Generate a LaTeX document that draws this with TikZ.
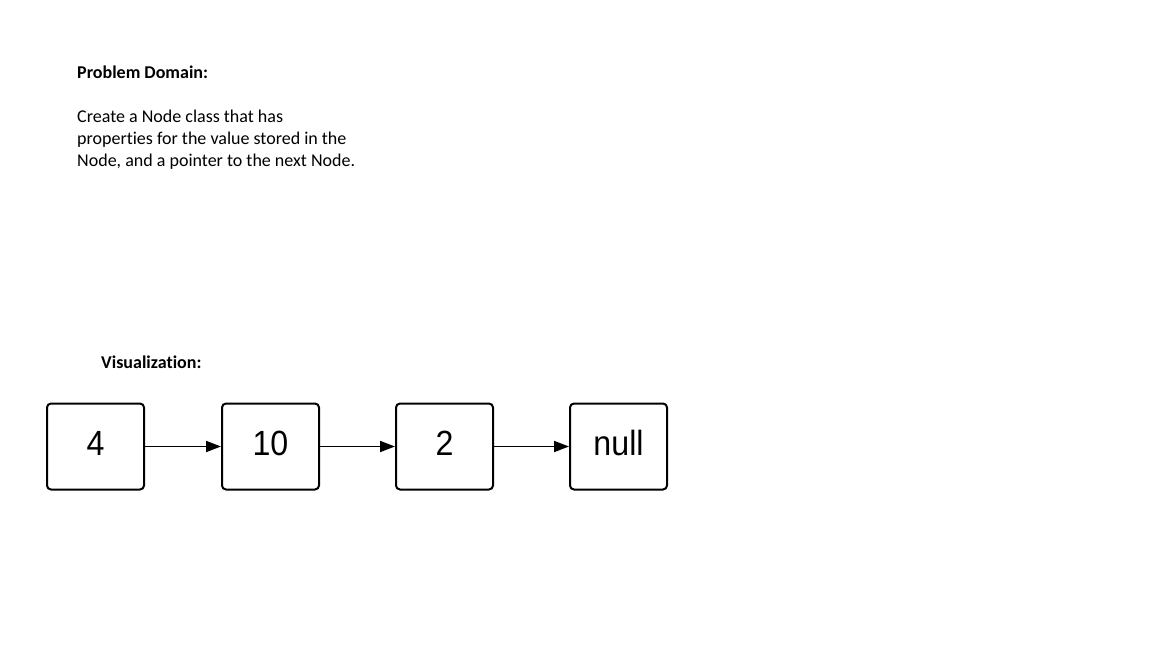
\documentclass[tikz,border=0pt]{standalone}
\usepackage{fontspec}
\setmainfont{Carlito}[Ligatures={NoCommon}]
\newfontfamily\boxfont{Liberation Sans}
\usetikzlibrary{arrows.meta}
\tikzset{
  txt/.style={inner sep=0pt, anchor=base west, font=\fontsize{18pt}{22pt}\selectfont, align=left},
  listbox/.style={draw=black, line width=2pt, rounded corners=4pt, minimum width=97pt, minimum height=86pt,
    inner sep=0pt, text height=17pt, text depth=0pt, font=\boxfont\fontsize{35pt}{40pt}\selectfont},
  link/.style={line width=1.8pt, -{Triangle[length=15pt,width=11pt]}}
}
\newcommand{\bxt}[1]{\scalebox{0.92}[1]{#1}}
\begin{document}
\begin{tikzpicture}[x=1pt,y=-1pt]
\useasboundingbox[fill=white] (0,0) rectangle (1152,648);
\node[txt] (title) at (77,78) {\bfseries Problem Domain:};
\node[txt] (desc) at (77,166.7) {Create a Node class that has\\properties for the value stored in the\\Node, and a pointer to the next Node.};
\node[txt] (vis) at (101,368) {\bfseries Visualization:};
\node[listbox] (n1) at (95.5,446.5) {\bxt{4}};
\node[listbox] (n2) at (270.5,446.5) {\bxt{10}};
\node[listbox] (n3) at (444.5,446.5) {\bxt{2}};
\node[listbox] (n4) at (618.5,446.5) {\bxt{null}};
\draw[link] (n1) -- (n2);
\draw[link] (n2) -- (n3);
\draw[link] (n3) -- (n4);
\end{tikzpicture}
\end{document}
